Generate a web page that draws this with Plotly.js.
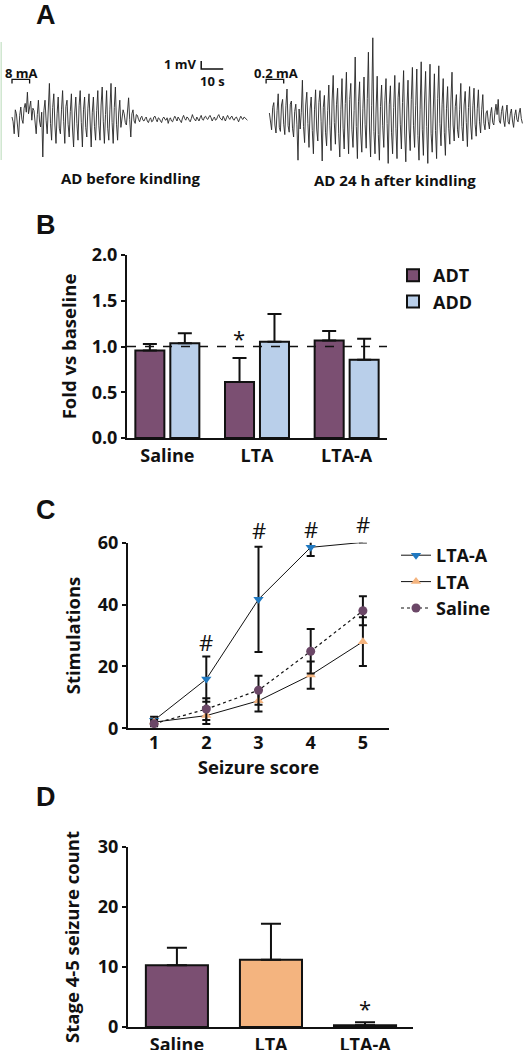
<!DOCTYPE html>
<html><head><meta charset="utf-8">
<script src="https://cdn.plot.ly/plotly-3.0.1.min.js"></script>
<style>html,body{margin:0;padding:0;background:#fff}#chart{width:523px;height:1050px}</style>
</head><body><div id="chart"></div>
<script>
// ---------- DATA ----------
// Panel A: EEG afterdischarge traces (mV, one sample every 0.5 s)
const eegStepSec = 0.5;
const eegBefore = [
  0,-0.6,-2.1,0.9,0.4,-1.2,-2.5,0.2,1.25,-0.3,-0.8,1.1,1.7,0.6,3.1,0.4,1.25,2.0,-0.4,1.1,
  0.8,-0.6,-2.1,0.3,2.1,-0.5,-1.25,0.6,-5,0.8,2.1,-0.4,-2.1,1.0,4.2,-0.8,-2.9,1.2,2.9,-1.0,
  -3.3,0.4,2.5,-1.4,-2.1,0.9,3.3,-0.6,-3.3,1.3,2.1,-0.9,-2.5,0.7,2.9,-1.5,-3.75,0.5,2.5,-0.8,
  -2.9,1.4,3.3,-0.7,-3.75,0.9,2.5,-1.3,-2.5,1.1,2.9,-0.5,-3.75,0.6,2.5,-1.2,-2.9,0.8,3.3,-1.1,
  -2.9,1.5,3.75,-0.6,-3.3,0.3,3.3,-1.4,-2.9,0.9,4.2,-0.7,-3.3,1.2,3.75,-0.9,-2.9,0.5,2.1,-1.3,
  -0.4,0.9,0.4,-0.7,-1.0,0.6,2.4,-0.3,-2.5,0.4,0.9,-0.5,-0.8,0.3,
  0.2,-0.3,-0.6,-0.1,0.1,-0.4,-0.5,-0.2,0.0,-0.5,-0.7,-0.3,-0.1,-0.6,-0.5,0.0,0.1,-0.3,-0.6,-0.1,
  -0.2,-0.5,-0.7,-0.2,0.0,-0.3,-0.4,-0.1,-0.8,-0.3,-0.1,-0.5,-0.6,-0.2,0.1,-0.2,-0.5,0.0,-0.2,-0.4,
  -0.7,-0.1,0.2,-0.2,-0.4,0.0,-0.1,-0.4,-0.6,-0.2,0.3,-0.1,-0.3,-0.5,0.0,-0.2,-0.5,-0.1,0.2,-0.3,
  -0.4,0.0,0.1,-0.2,-0.3,0.0,0.2,-0.1,-0.5,-0.2,0.0,-0.4,-0.3,0.1,0.3,-0.1,-0.2,-0.4,0.1,-0.2,
  -0.5,-0.1,0.2,-0.1,-0.3,0.0,0.1,-0.3,-0.4,-0.1,0.0,-0.3,-0.6,-0.2,0.1,-0.2,-0.3,0.0,-0.1,-0.3,-0.4];
const eegAfter = [
  0.5,-0.4,-1.6,1.2,1.8,-1.0,-2.0,0.8,2.9,-1.3,-1.8,1.5,2.2,-0.9,-2.2,1.4,3.5,-1.1,-1.9,1.6,
  2.0,-1.4,-2.5,0.7,1.6,-0.9,-5.4,1.0,-1.5,0.6,4.6,-1.2,-3.2,1.5,3.1,-0.8,-3.8,1.0,2.5,-1.7,
  -4.6,0.9,3.4,-1.5,-3.0,1.8,3.3,-0.6,-5.5,1.2,2.7,-1.9,-3.6,0.8,4.0,-1.1,-4.2,2.0,5.2,-0.7,
  -3.4,1.6,3.6,-2.1,-5.0,0.9,4.8,-1.4,-4.0,1.7,5.6,-1.0,-4.6,2.2,4.2,-1.6,-3.8,0.8,7.5,-1.2,
  -5.2,1.9,4.4,-2.0,-4.4,1.1,5.0,-0.9,-3.9,2.3,8.1,-1.5,-5.0,1.4,9.9,-1.8,-4.6,1.0,5.1,-2.2,
  -5.4,1.3,4.0,-1.1,-3.8,2.1,4.8,-0.8,-5.8,1.6,3.9,-1.9,-4.6,1.2,5.2,-1.4,-5.2,2.4,4.3,-0.9,
  -4.0,1.8,5.8,-2.0,-5.6,1.0,4.6,-1.5,-4.2,2.2,6.2,-1.1,-3.8,1.4,6.0,-2.3,-5.4,0.9,6.9,-1.6,
  -4.8,2.0,5.7,-1.2,-5.8,1.5,6.6,-2.1,-4.4,1.0,5.4,-1.7,-5.2,2.3,6.4,-0.8,-3.6,1.6,4.8,-1.9,
  -4.8,1.1,3.8,-1.4,-3.4,2.0,5.6,-1.0,-3.0,1.3,2.8,-1.6,-2.6,0.9,4.2,-1.2,-3.0,1.5,3.2,-0.7,
  -3.7,1.2,3.8,-1.0,-2.8,1.4,3.6,-0.9,-2.4,1.1,3.4,-0.6,-2.0,0.9,2.8,-0.8,-1.6,0.5,0.8,-0.6,
  -1.5,0.4,1.2,-0.7,-1.0,0.6,1.6,0.3,2.2,-0.5,-0.8,0.7,1.4,-0.4,-1.2,0.5,1.5,-0.6,-0.9,0.4,
  1.0,-0.5,-1.3,0.2,0.9,-0.3,-0.6,0.5,1.1,-0.2,-0.8];
const eegAfterStartSec = 117;
const stimBefore = {start: 0, dur: 8, label: '8 mA'};
const stimAfter = {start: 115.5, dur: 8, label: '0.2 mA'};
const scaleBarSec = 10, scaleBarMv = 1;
const traceLabels = ['AD before kindling', 'AD 24 h after kindling'];

// Panel B
const groupsB = ['Saline', 'LTA', 'LTA-A'];
const adtMean = [0.956, 0.611, 1.065];
const adtSem  = [0.07, 0.262, 0.105];
const addMean = [1.036, 1.051, 0.855];
const addSem  = [0.11, 0.305, 0.23];
const baselineFold = 1.0;
const sigB = {group: 'LTA', y: 1.09, text: '*'};

// Panel C
const seizureScore = [1, 2, 3, 4, 5];
const ltaAStim = [2.6, 15.9, 41.7, 58.5, 60.1];
const ltaAErr  = [1.1, 7.3, 17.0, 2.8, 0];
const ltaStim  = [2.0, 4.1, 8.9, 17.2, 28.0];
const ltaErr   = [0.8, 2.7, 3.5, 4.4, 7.9];
const salStim  = [1.5, 6.2, 12.3, 24.9, 38.0];
const salErr   = [0.8, 3.5, 4.7, 7.2, 4.7];
const stimRangeMax = 60;
const hashX = [2, 3, 4, 5];
const hashY = [28, 64.1, 64.3, 66.2];

// Panel D
const groupsD = ['Saline', 'LTA', 'LTA-A'];
const stage45Mean = [10.3, 11.2, 0.3];
const stage45Sem  = [2.9, 6.0, 0.5];
const sigD = {group: 'LTA-A', y: 3.2, text: '*'};

// ---------- STYLE ----------
const W = 523, H = 1050;
const F = '"Open Sans", sans-serif';
const INK = '#111';
const PURPLE = '#7b4f72', BLUE_LIGHT = '#b9cfea', ORANGE = '#f4b47f', BLUE = '#2079c1', SAL_MK = '#6b4767';
const px2x = p => p / W;
const px2y = p => 1 - p / H;
const fnt = (size, bold) => ({family: F, size: size, color: INK, weight: bold ? 'bold' : 'normal'});
const LABEL_FONT = {family:'"Liberation Sans", Arial, sans-serif', size:27, weight:'bold', color:INK};

// ---------- TRACES ----------
const tBefore = eegBefore.map((_, i) => stimBefore.start + i * eegStepSec);
const tAfter = eegAfter.map((_, i) => eegAfterStartSec + i * eegStepSec);
const sbX0 = 86, sbY0 = 6.0;

const traces = [
  {type:'scatter', mode:'lines', x:tBefore, y:eegBefore, xaxis:'x4', yaxis:'y4', line:{color:'#262626', width:0.9}, showlegend:false, hoverinfo:'skip'},
  {type:'scatter', mode:'lines', x:tAfter, y:eegAfter, xaxis:'x4', yaxis:'y4', line:{color:'#262626', width:0.9}, showlegend:false, hoverinfo:'skip'},
  {type:'scatter', mode:'lines', x:[sbX0, sbX0, sbX0 + scaleBarSec], y:[sbY0 + scaleBarMv, sbY0, sbY0], xaxis:'x4', yaxis:'y4', line:{color:INK, width:1.5}, showlegend:false, hoverinfo:'skip'},

  {type:'bar', name:'ADT', x:groupsB, y:adtMean, xaxis:'x', yaxis:'y', legend:'legend',
   marker:{color:PURPLE, line:{color:INK, width:2}},
   error_y:{type:'data', symmetric:false, array:adtSem, arrayminus:adtSem.map(() => 0), color:INK, thickness:2, width:7}},
  {type:'bar', name:'ADD', x:groupsB, y:addMean, xaxis:'x', yaxis:'y', legend:'legend',
   marker:{color:BLUE_LIGHT, line:{color:INK, width:2}},
   error_y:{type:'data', symmetric:false, array:addSem, arrayminus:addSem.map(() => 0), color:INK, thickness:2, width:7}},

  {type:'scatter', mode:'lines+markers', name:'LTA-A', x:seizureScore, y:ltaAStim, xaxis:'x2', yaxis:'y2', legend:'legend2', cliponaxis:false,
   line:{color:INK, width:1}, marker:{symbol:'triangle-down', size:9, color:BLUE},
   error_y:{type:'data', array:ltaAErr, color:INK, thickness:2, width:4}},
  {type:'scatter', mode:'lines+markers', name:'LTA', x:seizureScore, y:ltaStim, xaxis:'x2', yaxis:'y2', legend:'legend2', cliponaxis:false,
   line:{color:INK, width:1}, marker:{symbol:'triangle-up', size:9, color:ORANGE},
   error_y:{type:'data', array:ltaErr, color:INK, thickness:2, width:4}},
  {type:'scatter', mode:'lines+markers', name:'Saline', x:seizureScore, y:salStim, xaxis:'x2', yaxis:'y2', legend:'legend2', cliponaxis:false,
   line:{color:INK, width:1.2, dash:'dot'}, marker:{symbol:'circle', size:9, color:SAL_MK},
   error_y:{type:'data', array:salErr, color:INK, thickness:2, width:4}},

  {type:'bar', x:groupsD, y:stage45Mean, xaxis:'x3', yaxis:'y3', width:0.66, showlegend:false,
   marker:{color:[PURPLE, ORANGE, BLUE], line:{color:INK, width:2}},
   error_y:{type:'data', symmetric:false, array:stage45Sem, arrayminus:stage45Sem.map(() => 0), color:INK, thickness:2, width:10}}
];

// ---------- LAYOUT ----------
const axBase = {showline:true, linewidth:2, linecolor:INK, showgrid:false, zeroline:false,
  ticks:'outside', ticklen:4, tickwidth:2, tickcolor:INK, tickfont:fnt(18, true), fixedrange:true, automargin:false};

const ann = (text, xref, yref, x, y, font, extra) => Object.assign(
  {text:text, xref:xref, yref:yref, x:x, y:y, xanchor:'center', yanchor:'middle', showarrow:false, font:font}, extra || {});

const layout = {
  width:W, height:H, margin:{l:0, r:0, t:0, b:0, autoexpand:false}, paper_bgcolor:'#fff', plot_bgcolor:'rgba(0,0,0,0)',
  font:{family:F, color:INK},
  barmode:'group', bargap:0.22, bargroupgap:0.17,
  // Panel B
  xaxis:Object.assign({}, axBase, {domain:[px2x(127), px2x(387)], anchor:'y', type:'category', range:[-0.45, 2.45], ticks:''}),
  yaxis:Object.assign({}, axBase, {domain:[px2y(438), px2y(255)], anchor:'x', range:[0, 2], dtick:0.5, tickformat:'.1f',
    title:{text:'Fold vs baseline', font:fnt(18.5, true), standoff:10}}),
  // Panel C
  xaxis2:Object.assign({}, axBase, {domain:[px2x(128), px2x(389)], anchor:'y2', range:[0.5, 5.5], dtick:1, ticks:'', ticklabelstandoff:-3,
    title:{text:'Seizure score', font:fnt(18.5, true), standoff:4}}),
  yaxis2:Object.assign({}, axBase, {domain:[px2y(728.3), px2y(542.7)], anchor:'x2', range:[0, stimRangeMax], dtick:20,
    title:{text:'Stimulations', font:fnt(18.5, true), standoff:12}}),
  // Panel D
  xaxis3:Object.assign({}, axBase, {domain:[px2x(128), px2x(413)], anchor:'y3', type:'category', range:[-0.52, 2.51], ticks:''}),
  yaxis3:Object.assign({}, axBase, {domain:[px2y(1027), px2y(847)], anchor:'x3', range:[0, 30], dtick:10,
    title:{text:'Stage 4-5 seizure count', font:fnt(18.5, true), standoff:13}}),
  // Panel A (EEG, seconds vs mV)
  xaxis4:{domain:[0, 1], anchor:'y4', range:[-12/2.2, (W - 12)/2.2], visible:false, fixedrange:true},
  yaxis4:{domain:[px2y(170), px2y(30)], anchor:'x4', range:[-6.625, 10.875], visible:false, fixedrange:true},

  legend:{x:px2x(393), y:px2y(257), xanchor:'left', yanchor:'top', font:fnt(18, true), bgcolor:'rgba(0,0,0,0)', itemwidth:30, tracegroupgap:0},
  legend2:{x:px2x(396), y:px2y(537), xanchor:'left', yanchor:'top', font:fnt(18, true), bgcolor:'rgba(0,0,0,0)', itemwidth:30, tracegroupgap:0},

  shapes:[
    {type:'line', xref:'x domain', yref:'y', x0:0, x1:1, y0:baselineFold, y1:baselineFold, layer:'above', line:{color:INK, width:1.5, dash:'dash'}},
    {type:'path', xref:'x4', yref:'y4', path:`M${stimBefore.start},4.2 V4.7 H${stimBefore.start + stimBefore.dur} V4.2`, line:{color:INK, width:1.3}},
    {type:'path', xref:'x4', yref:'y4', path:`M${stimAfter.start},4.2 V4.7 H${stimAfter.start + stimAfter.dur} V4.2`, line:{color:INK, width:1.3}},
    {type:'line', xref:'paper', yref:'paper', x0:px2x(1.2), x1:px2x(1.2), y0:px2y(160), y1:px2y(42), line:{color:'#cfe6cf', width:1.5}}
  ],
  annotations:[
    ann('A', 'paper', 'paper', px2x(46), px2y(15.5), LABEL_FONT),
    ann('B', 'paper', 'paper', px2x(46), px2y(225), LABEL_FONT),
    ann('C', 'paper', 'paper', px2x(46), px2y(510), LABEL_FONT),
    ann('D', 'paper', 'paper', px2x(46), px2y(797), LABEL_FONT),
    ann(traceLabels[0], 'paper', 'paper', px2x(131), px2y(178), fnt(15, true)),
    ann(traceLabels[1], 'paper', 'paper', px2x(395), px2y(180), fnt(15, true)),
    ann(stimBefore.label, 'x4', 'y4', stimBefore.start + stimBefore.dur/2 + 0.5, 5.5, fnt(13, true)),
    ann(stimAfter.label, 'x4', 'y4', stimAfter.start + stimAfter.dur/2 + 0.5, 5.5, fnt(13, true)),
    ann(scaleBarMv + ' mV', 'x4', 'y4', sbX0 - 1, sbY0 + 0.6, fnt(13, true), {xanchor:'right'}),
    ann(scaleBarSec + ' s', 'x4', 'y4', sbX0 + scaleBarSec/2, sbY0 - 1.5, fnt(13, true)),
    ann(sigB.text, 'x', 'y', sigB.group, sigB.y, fnt(22, false), {xshift:-18}),
    ann(sigD.text, 'x3', 'y3', sigD.group, sigD.y, fnt(22, false))
  ].concat(hashX.map((x, i) => ann('#', 'x2', 'y2 domain', x, hashY[i] / stimRangeMax, fnt(22, false))))
};

Plotly.newPlot('chart', traces, layout, {staticPlot:true, displayModeBar:false});
</script>
</body></html>
